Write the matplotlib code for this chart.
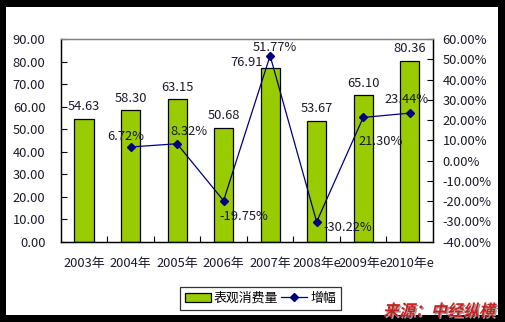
import matplotlib
matplotlib.use("Agg")
import matplotlib.pyplot as plt
from matplotlib.patches import Rectangle, PathPatch
from matplotlib.lines import Line2D
from matplotlib.textpath import TextPath
from matplotlib.font_manager import FontProperties
from matplotlib.transforms import Affine2D, IdentityTransform

plt.rcParams['font.family'] = ['Noto Sans CJK SC', 'DejaVu Sans']

years = ["2003年", "2004年", "2005年", "2006年", "2007年", "2008年e", "2009年e", "2010年e"]
consumption = [54.63, 58.30, 63.15, 50.68, 76.91, 53.67, 65.10, 80.36]
growth = [None, 6.72, 8.32, -19.75, 51.77, -30.22, 21.30, 23.44]
left_ticks = [0, 10, 20, 30, 40, 50, 60, 70, 80, 90]
right_ticks = [-40, -30, -20, -10, 0, 10, 20, 30, 40, 50, 60]
series_names = ["表观消费量", "增幅"]
source = "来源：中经纵横"

W, H = 506, 322
fig = plt.figure(figsize=(W / 100, H / 100), dpi=100, facecolor="black")

# white canvas inside the black frame
fig.patches.append(Rectangle((6 / W, 7 / H), (498 - 6) / W, (315 - 7) / H,
                             transform=fig.transFigure, facecolor="white",
                             edgecolor="none", zorder=-10))

x0, x1, y0, y1 = 60.7, 433, 39, 241.7
ax = fig.add_axes([x0 / W, 1 - y1 / H, (x1 - x0) / W, (y1 - y0) / H])
ax.set_facecolor("none")
ax2 = ax.twinx()

fs = 9.3
tc = "#1a1a2e"
xs = list(range(len(years)))

ax.bar(xs, consumption, width=0.41, color="#99CC00", edgecolor="black",
       linewidth=0.9, zorder=2)
# value labels above bars (pixel offsets from bar top)
bar_off = {4: (-23, 6)}
for x, v in zip(xs, consumption):
    dx, dy = bar_off.get(x, (0, 12))
    ax.annotate(f"{v:.2f}", (x, v), xytext=(dx, dy), textcoords="offset pixels",
                ha="center", va="center", fontsize=fs, color=tc, zorder=4)

ax.set_xlim(-0.5, len(years) - 0.5)
ax.set_ylim(0, 90)
ax.set_yticks(left_ticks)
ax.set_yticklabels([f"{v:.2f}" for v in left_ticks], fontsize=fs, color=tc)
ax.set_xticks([i + 0.5 for i in range(len(years) - 1)], minor=False)
ax.set_xticklabels([])
ax.set_xticks(xs, minor=True)
ax.set_xticklabels(years, minor=True, fontsize=fs, color=tc)
ax.tick_params(axis="x", which="major", direction="in", length=4, width=0.8)
ax.tick_params(axis="x", which="minor", length=0, pad=11)
ax.tick_params(axis="y", direction="in", length=4, width=0.8, pad=11)

gx = [x for x, g in zip(xs, growth) if g is not None]
gy = [g for g in growth if g is not None]
ax2.plot(gx, gy, color="#000080", linewidth=0.9, marker="D", markersize=4.5,
         zorder=3)
ax2.set_ylim(-40, 60)
ax2.set_yticks(right_ticks)
ax2.set_yticklabels([f"{v:.2f}%" for v in right_ticks], fontsize=fs, color=tc)
ax2.tick_params(axis="y", direction="in", length=4, width=0.8, pad=7)

# growth labels, offsets in pixels from each marker
pct_off = {1: (-5, 10.5), 2: (12, 12.5), 3: (20, -16), 4: (5, 8),
           5: (31, -6), 6: (17, -24), 7: (-3, 13.5)}
for x, g in zip(gx, gy):
    dx, dy = pct_off[x]
    ax2.annotate(f"{g:.2f}%", (x, g), xytext=(dx, dy), textcoords="offset pixels",
                 ha="center", va="center", fontsize=fs, color=tc, zorder=4)

for a in (ax, ax2):
    a.spines["top"].set_color("#808080")
    a.spines["left"].set_color("black")
    a.spines["right"].set_color("black")
    a.spines["bottom"].set_color("black")
    for s in a.spines.values():
        s.set_linewidth(0.9)

handles = [Rectangle((0, 0), 1, 1, facecolor="#99CC00", edgecolor="black", linewidth=0.9),
           Line2D([], [], color="#000080", linewidth=0.9, marker="D", markersize=4)]
leg = fig.legend(handles, series_names, loc="center",
                 bbox_to_anchor=(260.5 / W, 1 - 298.5 / H), ncol=2, fontsize=fs,
                 frameon=True, fancybox=False, edgecolor="black", borderpad=0.35,
                 handlelength=2.0, handletextpad=0.25, columnspacing=0.25,
                 borderaxespad=0)
leg.get_frame().set_linewidth(0.9)

# slanted bold source note with a soft shadow
fp = FontProperties(family="Noto Sans CJK SC", weight="bold")
tp = TextPath((0, 0), source, size=16, prop=fp)
base = Affine2D().skew_deg(12, 0).translate(383, H - 316)
fig.patches.append(PathPatch(tp, transform=base + Affine2D().translate(1.5, -1.5) + IdentityTransform(),
                             facecolor="#9a9a9a", edgecolor="none", zorder=5))
fig.patches.append(PathPatch(tp, transform=base + IdentityTransform(),
                             facecolor="#CC1F1F", edgecolor="none", zorder=6))

fig.savefig("out.png", dpi=100, facecolor="black")
